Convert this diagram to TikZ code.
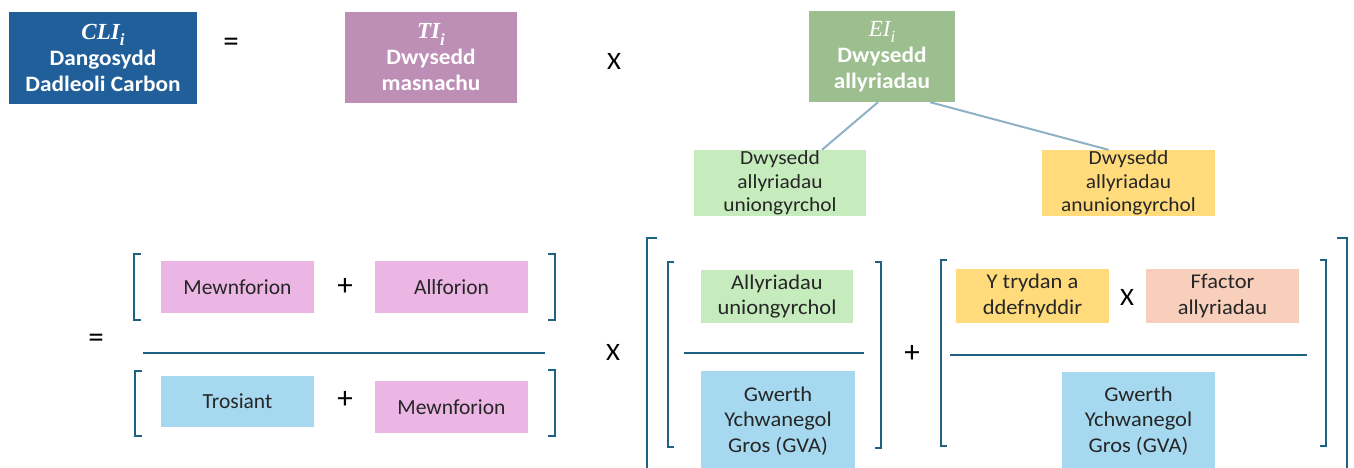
\documentclass[tikz,border=0pt]{standalone}
\usepackage{fontspec}
\setmainfont{Carlito}
\newfontfamily\narrowf[FakeStretch=1.07]{Carlito}
\newfontfamily\widebf[FakeStretch=1.06]{Carlito}
\newfontfamily\serifm{Liberation Serif}
\newcommand\maths[2]{{\serifm\itshape\fontsize{23}{26}\selectfont #1\raisebox{-0.28em}{\fontsize{17}{17}\selectfont #2}}}
\usetikzlibrary{calc}
\definecolor{cliblue}{HTML}{215F9A}
\definecolor{tipurple}{HTML}{BD8EB6}
\definecolor{eigreen}{HTML}{9DBF8F}
\definecolor{lgreen}{HTML}{C6EBBC}
\definecolor{lyellow}{HTML}{FFDB7C}
\definecolor{lpink}{HTML}{EBB5E4}
\definecolor{lblue}{HTML}{A6D9F0}
\definecolor{lpeach}{HTML}{F8CFBB}
\definecolor{brk}{HTML}{1F6183}
\definecolor{conn}{HTML}{8FB1C6}
\tikzset{
  topbox/.style={rectangle, inner sep=0pt, align=center, text=white,
    font=\widebf\fontsize{22}{26}\selectfont\bfseries},
  lowbox/.style={rectangle, inner sep=0pt, align=center, text=black!85,
    font=\fontsize{21.5}{25}\selectfont, minimum width=153pt},
  narrowbox/.style={rectangle, inner sep=0pt, align=center, text=black!85,
    font=\narrowf\fontsize{21}{25.5}\selectfont},
  opsign/.style={inner sep=0pt, font=\fontsize{31}{31}\selectfont, text=black},
  opx/.style={inner sep=0pt, font=\narrowf\fontsize{25}{25}\selectfont, text=black},
  bracketline/.style={draw=brk, line width=2.6pt},
  connline/.style={draw=conn, line width=2pt}
}
\begin{document}
\begin{tikzpicture}[x=1pt,y=-1pt]
\useasboundingbox (0,0) rectangle (1354,468);
\clip (0,0) rectangle (1354,468);
% top row
\node[topbox, fill=cliblue, minimum width=188pt, minimum height=92pt] (cli) at (103,58)
  {\maths{CLI}{i}\\Dangosydd\\Dadleoli Carbon};
\node[opsign] (eq1) at (231,45) {=};
\node[topbox, fill=tipurple, minimum width=172pt, minimum height=91pt] (ti) at (431,57.5)
  {\maths{TI}{i}\\Dwysedd\\masnachu};
\node[opx] (x1) at (614,61) {X};
\node[topbox, fill=eigreen, minimum width=146pt, minimum height=91pt] (ei) at (882,56.5)
  {\mdseries\maths{EI}{i}\\Dwysedd\\allyriadau};
\node[narrowbox, fill=lgreen, minimum width=172pt, minimum height=66pt,
  font=\narrowf\fontsize{20}{23.5}\selectfont] (dg) at (780,183)
  {Dwysedd\\allyriadau\\uniongyrchol};
\node[narrowbox, fill=lyellow, minimum width=173pt, minimum height=66pt,
  font=\narrowf\fontsize{20}{23.5}\selectfont] (dy) at (1128.5,183)
  {Dwysedd\\allyriadau\\anuniongyrchol};
\draw[connline] ([xshift=-4pt]ei.south) -- ([xshift=42pt]dg.north);
\draw[connline] ([xshift=48pt]ei.south) -- ([xshift=-20pt]dy.north);
% left fraction
\node[opsign] (eq2) at (96,341) {=};
\node[lowbox, fill=lpink, minimum height=52pt] (m1) at (237.5,287) {Mewnforion};
\node[opsign] (p1) at (345,287) {+};
\node[lowbox, fill=lpink, minimum height=52pt] (a1) at (451.5,287) {Allforion};
\node[lowbox, fill=lblue, minimum height=51pt] (t1) at (237.5,401.5) {Trosiant};
\node[opsign] (p2) at (345,400) {+};
\node[lowbox, fill=lpink, minimum height=52pt] (m2) at (451.5,407) {Mewnforion};
\draw[bracketline] (141,254) -- (134,254) -- (134,320) -- (141,320);
\draw[bracketline] (548,254) -- (555,254) -- (555,320) -- (548,320);
\draw[bracketline] (142,371) -- (135,371) -- (135,436) -- (142,436);
\draw[bracketline] (548,370) -- (555,370) -- (555,436) -- (548,436);
\draw[bracketline] (143,353) -- (545,353);
% right part
\node[opx] (x2) at (613,352) {X};
\draw[bracketline] (657,238) -- (647,238) -- (647,475);
\draw[bracketline] (674,262) -- (668,262) -- (668,447) -- (674,447);
\node[narrowbox, fill=lgreen, minimum width=152pt, minimum height=53pt] (au) at (777,296.5)
  {Allyriadau\\uniongyrchol};
\draw[bracketline] (684,353) -- (864,353);
\node[narrowbox, fill=lblue, minimum width=154pt, minimum height=100pt] (gw1) at (778,421)
  {Gwerth\\Ychwanegol\\Gros (GVA)};
\draw[bracketline] (875,262) -- (881,262) -- (881,448) -- (875,448);
\node[opsign] (p3) at (912,354) {+};
\draw[bracketline] (947,260) -- (941,260) -- (941,446) -- (947,446);
\node[narrowbox, fill=lyellow, minimum width=153pt, minimum height=54pt] (yt) at (1032.5,296)
  {Y trydan a\\ddefnyddir};
\node[opx] (x3) at (1127,297) {X};
\node[narrowbox, fill=lpeach, minimum width=153pt, minimum height=54pt] (ff) at (1222.5,296)
  {Ffactor\\allyriadau};
\draw[bracketline] (950,355) -- (1307,355);
\node[narrowbox, fill=lblue, minimum width=153pt, minimum height=98pt] (gw2) at (1138.5,421)
  {Gwerth\\Ychwanegol\\Gros (GVA)};
\draw[bracketline] (1320,260) -- (1326,260) -- (1326,446) -- (1320,446);
\draw[bracketline] (1337,238) -- (1347,238) -- (1347,475);
\end{tikzpicture}
\end{document}
